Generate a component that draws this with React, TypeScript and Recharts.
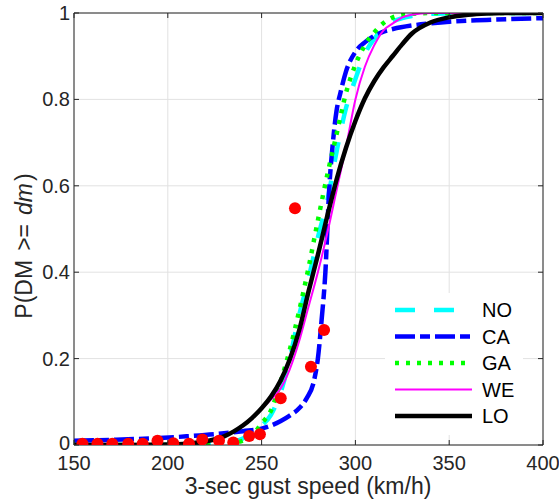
import {
    ComposedChart,
    Line,
    Scatter,
    XAxis,
    YAxis,
    CartesianGrid,
    Legend,
    Label,
} from "recharts";

const FONT = '"Liberation Sans", Arial, Helvetica, sans-serif';
const AXIS_COLOR = "#262626";
const GRID_COLOR = "#e2e2e2";

// axis ticks
const xTicks = [150, 200, 250, 300, 350, 400];
const yTicks = [0, 0.2, 0.4, 0.6, 0.8, 1];

// fragility curves
const speedGrid = [
    150, 170, 190, 200, 210, 220, 230, 235, 240, 245, 250, 255, 260, 265, 270,
    275, 280, 285, 290, 295, 300, 305, 310, 315, 320, 325, 330, 340, 350, 360,
    370, 380, 400,
];
const noProb = [
    0, 0, 0, 0, 0.0005, 0.001, 0.004, 0.008, 0.015, 0.028, 0.045, 0.07, 0.12,
    0.2, 0.3, 0.385, 0.48, 0.565, 0.68, 0.78, 0.847, 0.905, 0.94, 0.963, 0.98,
    0.988, 0.993, 0.998, 0.999, 1, 1, 1, 1,
];
const gaProb = [
    0, 0, 0, 0, 0, 0.001, 0.003, 0.005, 0.01, 0.022, 0.05, 0.08, 0.145, 0.22,
    0.31, 0.41, 0.52, 0.625, 0.72, 0.815, 0.88, 0.925, 0.955, 0.977, 0.99,
    0.995, 0.998, 1, 1, 1, 1, 1, 1,
];
const weProb = [
    0, 0, 0.0005, 0.001, 0.003, 0.008, 0.022, 0.032, 0.045, 0.063, 0.085, 0.105,
    0.13, 0.175, 0.24, 0.32, 0.4, 0.49, 0.59, 0.69, 0.8, 0.875, 0.925, 0.96,
    0.976, 0.99, 0.996, 1, 1, 1, 1, 1, 1,
];
const loProb = [
    0, 0, 0.0005, 0.001, 0.003, 0.008, 0.02, 0.031, 0.045, 0.063, 0.085, 0.112,
    0.148, 0.198, 0.265, 0.355, 0.44, 0.53, 0.615, 0.688, 0.75, 0.802, 0.842,
    0.874, 0.901, 0.928, 0.952, 0.978, 0.99, 0.996, 0.999, 1, 1,
];

// CA is much steeper, so it gets its own grid
const caSpeeds = [
    150, 170, 190, 210, 230, 240, 250, 255, 260, 265, 270, 274, 278, 280, 282,
    284, 286, 288, 290, 292, 295, 300, 305, 310, 315, 320, 330, 340, 350, 370,
    400,
];
const caProb = [
    0.01, 0.012, 0.015, 0.02, 0.027, 0.032, 0.038, 0.045, 0.055, 0.068, 0.085,
    0.108, 0.15, 0.2, 0.29, 0.4, 0.59, 0.7, 0.775, 0.815, 0.865, 0.91, 0.932,
    0.947, 0.957, 0.963, 0.971, 0.976, 0.98, 0.984, 0.988,
];

// observed damage ratios (red dots)
const dotSpeeds = [
    154.5, 162.5, 170.4, 178.9, 186.6, 194.5, 202.9, 211.3, 218.4, 227.3, 234.9,
    243.4, 249.1, 260.2, 267.8, 276.3, 283.3,
];
const dotProb = [
    0.003, 0.003, 0.003, 0.003, 0.003, 0.01, 0.004, 0.003, 0.013, 0.01, 0.006,
    0.021, 0.025, 0.108, 0.548, 0.181, 0.266,
];

const toPoints = (xs: number[], ps: number[]) =>
    xs.map((x, i) => ({ x, p: ps[i] }));

const series = [
    { name: "NO", data: toPoints(speedGrid, noProb), color: "#00ffff", width: 4.5, dash: "20 19" },
    { name: "CA", data: toPoints(caSpeeds, caProb), color: "#0000ff", width: 4.5, dash: "20 5 10 5" },
    { name: "GA", data: toPoints(speedGrid, gaProb), color: "#00ff00", width: 4.5, dash: "4 7" },
    { name: "WE", data: toPoints(speedGrid, weProb), color: "#ff00ff", width: 2, dash: undefined },
    { name: "LO", data: toPoints(speedGrid, loProb), color: "#000000", width: 4.5, dash: undefined },
];
const dots = toPoints(dotSpeeds, dotProb);

const textProps = { fontFamily: FONT, fill: AXIS_COLOR };

// plot box edges (left, right, top, bottom)
const PL = 74;
const PR = 543;
const PT = 13;
const PB = 445;

// ticks drawn inward like the original
const BottomTick = ({ x, payload }: any) => (
    <g>
        <line x1={x} x2={x} y1={PB} y2={PB - 5} stroke={AXIS_COLOR} />
        <line x1={x} x2={x} y1={PT} y2={PT + 5} stroke={AXIS_COLOR} />
        <text x={x} y={PB + 25} textAnchor="middle" fontSize={20} {...textProps}>
            {payload.value}
        </text>
    </g>
);
const LeftTick = ({ y, payload }: any) => (
    <g>
        <line x1={PL} x2={PL + 5} y1={y} y2={y} stroke={AXIS_COLOR} />
        <line x1={PR} x2={PR - 5} y1={y} y2={y} stroke={AXIS_COLOR} />
        <text
            x={PL - 4}
            y={payload.value === 0 ? y + 5 : y + 7}
            textAnchor="end"
            fontSize={20}
            {...textProps}
        >
            {payload.value}
        </text>
    </g>
);

const renderLegend = () => (
    <svg width={138} height={142}>
        <rect x={0} y={0} width={138} height={142} fill="#ffffff" />
        {series.map((s, i) => {
            const cy = 17 + i * 26.5;
            return (
                <g key={s.name}>
                    <line
                        x1={10}
                        x2={87}
                        y1={cy}
                        y2={cy}
                        stroke={s.color}
                        strokeWidth={s.width}
                        strokeDasharray={s.dash}
                    />
                    <text x={97} y={cy + 7} fontSize={20} {...textProps} fill="#000000">
                        {s.name}
                    </text>
                </g>
            );
        })}
    </svg>
);

export default function App() {
    return (
        <div style={{ position: "absolute", left: 0, top: 0, background: "#fff" }}>
            <ComposedChart
                width={559}
                height={504}
                margin={{ top: PT, right: 559 - PR, bottom: 29, left: 14 }}
            >
                <CartesianGrid stroke={GRID_COLOR} />
                <XAxis
                    dataKey="x"
                    type="number"
                    domain={[150, 400]}
                    ticks={xTicks}
                    height={30}
                    tickLine={false}
                    tick={<BottomTick />}
                    stroke={AXIS_COLOR}
                    allowDataOverflow
                >
                    <Label
                        content={() => (
                            <text x={308} y={494} textAnchor="middle" fontSize={23} {...textProps}>
                                3-sec gust speed (km/h)
                            </text>
                        )}
                    />
                </XAxis>
                <YAxis
                    dataKey="p"
                    type="number"
                    domain={[0, 1]}
                    ticks={yTicks}
                    width={60}
                    tickLine={false}
                    tick={<LeftTick />}
                    stroke={AXIS_COLOR}
                    allowDataOverflow
                >
                    <Label
                        content={() => (
                            <text
                                x={32}
                                y={246}
                                transform="rotate(-90 32 246)"
                                textAnchor="middle"
                                fontSize={23}
                                {...textProps}
                            >
                                P(DM
                                <tspan dx={9}>&gt;=</tspan>
                                <tspan dx={9} fontStyle="italic">dm</tspan>
                                <tspan dx={2}>)</tspan>
                            </text>
                        )}
                    />
                </YAxis>
                {series.map((s) => (
                    <Line
                        key={s.name}
                        data={s.data}
                        dataKey="p"
                        name={s.name}
                        type="monotone"
                        stroke={s.color}
                        strokeWidth={s.width}
                        strokeDasharray={s.dash}
                        dot={false}
                        activeDot={false}
                        isAnimationActive={false}
                    />
                ))}
                <Scatter
                    data={dots}
                    dataKey="p"
                    fill="#ff0000"
                    isAnimationActive={false}
                    shape={(props: any) => (
                        <circle cx={props.cx} cy={props.cy} r={6} fill="#ff0000" />
                    )}
                />
                <Legend
                    layout="vertical"
                    align="center"
                    verticalAlign="middle"
                    content={renderLegend}
                    wrapperStyle={{ left: 385, top: 293, width: 138, height: 142 }}
                />
            </ComposedChart>
            {/* top and right edges of the box */}
            <svg
                width={559}
                height={504}
                style={{ position: "absolute", left: 0, top: 0, pointerEvents: "none" }}
            >
                <path
                    d={`M${PL} ${PT} H${PR} V${PB}`}
                    fill="none"
                    stroke={AXIS_COLOR}
                    strokeWidth={1}
                />
            </svg>
        </div>
    );
}
